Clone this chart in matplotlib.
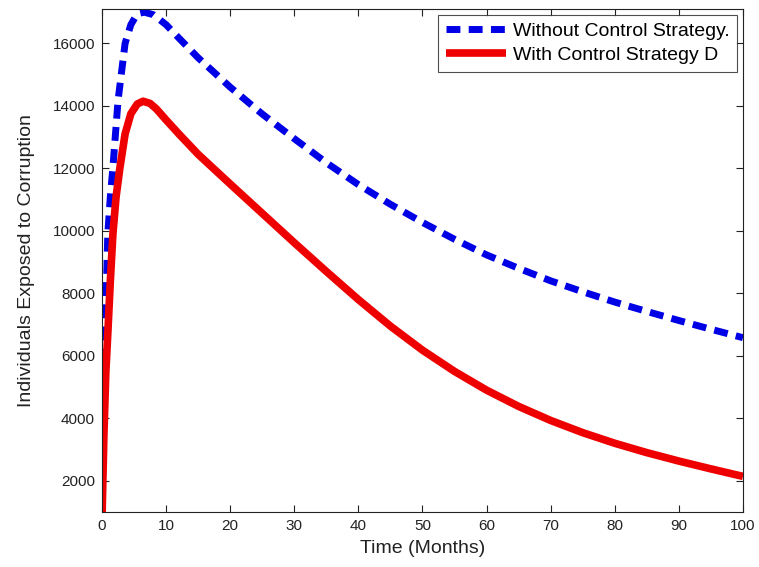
import numpy as np
import matplotlib.pyplot as plt

plt.rcParams['font.family'] = ['Liberation Sans', 'DejaVu Sans']

# Without control strategy (blue dashed)
t_blue = [0, 0.2, 0.5, 0.9, 1.3, 1.7, 2.5, 3.6, 4.5, 5.5, 6.6, 8, 10, 12, 15,
          20, 25, 30, 35, 40, 45, 50, 55, 60, 65, 70, 75, 80, 85, 90, 95, 100]
y_blue = [800, 4000, 6700, 9900, 11100, 12030, 14170, 16000, 16600, 16950, 17000,
          16920, 16600, 16170, 15540, 14600, 13740, 12950, 12180, 11480, 10850,
          10270, 9730, 9230, 8800, 8400, 8050, 7720, 7420, 7130, 6850, 6580]

# With control strategy D (red solid)
t_red = [0, 0.3, 0.6, 0.9, 1.3, 1.7, 2.2, 2.8, 3.6, 4.5, 5.5, 6.4, 7.5, 8.5, 10,
         12, 15, 20, 25, 30, 35, 40, 45, 50, 55, 60, 65, 70, 75, 80, 85, 90, 95, 100]
y_red = [800, 3500, 5500, 6700, 8400, 9900, 11100, 12030, 13100, 13750, 14060,
         14150, 14080, 13900, 13550, 13100, 12450, 11500, 10560, 9620, 8700, 7800,
         6950, 6180, 5500, 4900, 4380, 3930, 3540, 3200, 2900, 2630, 2380, 2140]

xticks = np.arange(0, 101, 10)
yticks = np.arange(2000, 16001, 2000)

fig = plt.figure(figsize=(7.59, 5.67), dpi=100)
ax = fig.add_axes([0.1344, 0.097, 0.8445, 0.887])

ax.plot(t_blue, y_blue, color='#0000e6', lw=5, ls=(0, (2, 1.2)),
        dash_capstyle='butt', dash_joinstyle='round', label='Without Control Strategy.')
ax.plot(t_red, y_red, color='#ee0000', lw=5.5, solid_capstyle='butt',
        solid_joinstyle='round', label='With Control Strategy D')

ax.set_xlim(0, 100)
ax.set_ylim(1000, 17100)
ax.set_xticks(xticks)
ax.set_yticks(yticks)
ax.tick_params(direction='in', length=5, width=0.8, top=True, right=True,
               labelsize=11, colors='#222222', pad=5)
for s in ax.spines.values():
    s.set_linewidth(0.8)
    s.set_color('#222222')

ax.set_xlabel('Time (Months)', fontsize=14, color='#222222', labelpad=5)
ax.set_ylabel('Individuals Exposed to Corruption', fontsize=14, color='#222222', labelpad=13)

leg = ax.legend(loc='upper right', fontsize=14, frameon=True, fancybox=False,
                handlelength=3.1, handletextpad=0.35, borderpad=0.4,
                labelspacing=0.3, borderaxespad=0.3)
leg.get_frame().set_edgecolor('#222222')
leg.get_frame().set_linewidth(0.8)

fig.savefig('out.png', dpi=100)
